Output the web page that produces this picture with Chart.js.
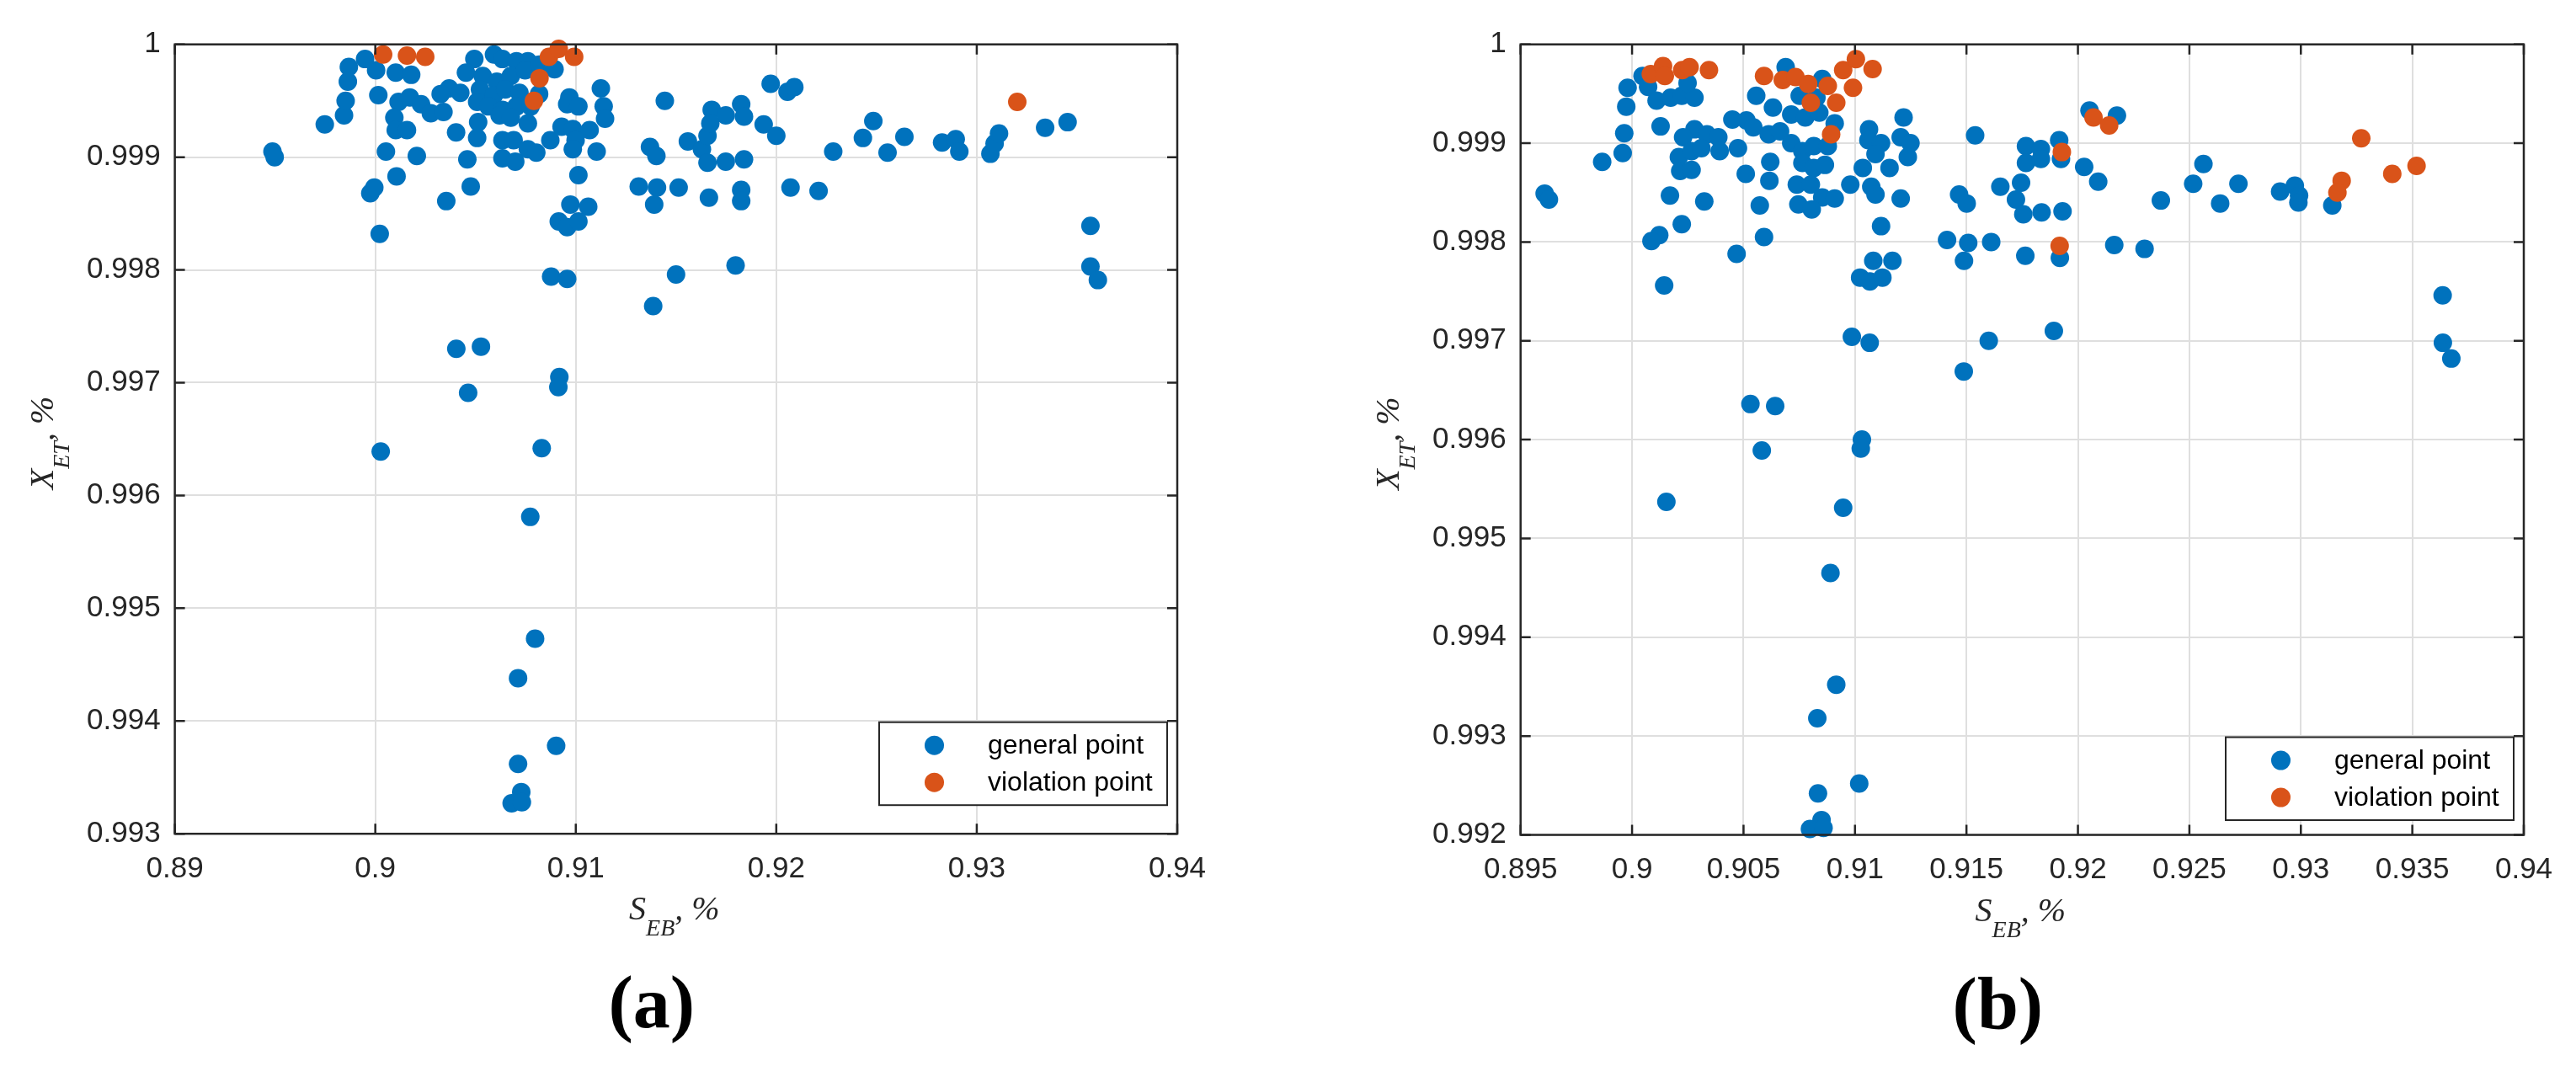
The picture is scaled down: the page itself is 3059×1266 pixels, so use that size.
<!DOCTYPE html>
<html><head><meta charset="utf-8">
<script src="https://cdn.jsdelivr.net/npm/chart.js@4/dist/chart.umd.min.js"></script>
<style>
html,body{margin:0;padding:0;background:#fff;width:3059px;height:1266px;overflow:hidden}
canvas{position:absolute;top:0}
</style></head><body>
<canvas id="ca" width="1530" height="1266" style="left:0px;width:1530px;height:1266px"></canvas>
<canvas id="cb" width="1529" height="1266" style="left:1530px;width:1529px;height:1266px"></canvas>
<script>
// ---------- DATA ----------
const legendLabels = ['general point', 'violation point'];
const panelLabels = ['(a)', '(b)'];
const xTitle = ['S', 'EB', ', %'];
const yTitle = ['X', 'ET', ', %'];

const aTicksX = [0.89, 0.9, 0.91, 0.92, 0.93, 0.94];
const aTicksY = [0.993, 0.994, 0.995, 0.996, 0.997, 0.998, 0.999, 1];
const bTicksX = [0.895, 0.9, 0.905, 0.91, 0.915, 0.92, 0.925, 0.93, 0.935, 0.94];
const bTicksY = [0.992, 0.993, 0.994, 0.995, 0.996, 0.997, 0.998, 0.999, 1];

// panel (a): general points [S_EB, X_ET]
const aGeneral = [
[0.90004,0.99977],[0.90102,0.99975],[0.90179,0.99973],[0.90015,0.99955],[0.90116,0.99949],[0.90172,0.99953],[0.90228,0.99947],[0.90277,0.99939],[0.90340,0.99940],[0.90095,0.99935],[0.90102,0.99924],[0.90158,0.99924],[0.90053,0.99905],[0.90207,0.99901],[0.89975,0.99868],[0.89995,0.99873],[0.90106,0.99883],[0.90354,0.99861],[0.90476,0.99874],[0.90022,0.99832],[0.90403,0.99922],[0.90508,0.99917],[0.90513,0.99931],[0.90459,0.99898],[0.90368,0.99961],[0.90326,0.99956],[0.90424,0.99957],
[0.90494,0.99987],[0.90592,0.99991],[0.90634,0.99987],[0.90704,0.99985],[0.90761,0.99985],[0.90452,0.99975],[0.90536,0.99972],[0.90606,0.99967],[0.90676,0.99972],[0.90747,0.99977],[0.90817,0.99982],[0.90894,0.99978],[0.90522,0.99960],[0.90592,0.99955],[0.90648,0.99960],[0.90719,0.99957],[0.90817,0.99956],[0.90508,0.99949],[0.90564,0.99945],[0.90634,0.99942],[0.90704,0.99945],[0.90775,0.99945],[0.90620,0.99937],[0.90676,0.99935],[0.90761,0.99930],[0.90634,0.99915],[0.90690,0.99915],[0.90761,0.99907],[0.90803,0.99904],[0.90634,0.99899],[0.90698,0.99896],[0.90873,0.99915],
[0.90968,0.99953],[0.90957,0.99947],[0.91013,0.99945],[0.91125,0.99961],[0.91139,0.99945],[0.91146,0.99934],[0.90929,0.99927],[0.90985,0.99925],[0.91069,0.99924],[0.90999,0.99915],[0.90985,0.99907],[0.91104,0.99905],[0.91013,0.99884],[0.90973,0.99858],[0.91062,0.99856],[0.90915,0.99843],[0.90957,0.99838],[0.91013,0.99843],[0.90877,0.99794],[0.90957,0.99792],
[0.91444,0.99950],[0.91370,0.99909],[0.91402,0.99901],[0.91314,0.99874],[0.91405,0.99873],[0.91391,0.99858],[0.91513,0.99873],[0.91559,0.99914],[0.91629,0.99907],[0.91657,0.99919],[0.91678,0.99942],[0.91748,0.99937],[0.91825,0.99947],[0.91839,0.99936],[0.91671,0.99930],[0.91657,0.99895],[0.91748,0.99896],[0.91839,0.99898],[0.91664,0.99864],[0.91825,0.99871],[0.91825,0.99861],[0.91937,0.99929],[0.92000,0.99919],[0.91972,0.99965],[0.92056,0.99958],[0.91500,0.99796],[0.91797,0.99804],
[0.89487,0.99905],[0.89498,0.99900],[0.89748,0.99929],[0.89844,0.99937],[0.89852,0.99950],[0.89863,0.99967],[0.89868,0.99980],[0.89949,0.99987],[0.91386,0.99768],[0.90404,0.99730],[0.90527,0.99732],
[0.92090,0.99962],[0.92071,0.99873],[0.92211,0.99870],[0.92284,0.99905],[0.92432,0.99917],[0.92484,0.99932],[0.92555,0.99904],[0.92639,0.99918],[0.92827,0.99913],[0.92895,0.99916],[0.92913,0.99905],[0.93068,0.99903],[0.93089,0.99912],[0.93111,0.99921],[0.93341,0.99926],[0.93453,0.99931],[0.93567,0.99839],[0.93567,0.99803],[0.93604,0.99791],
[0.90918,0.99705],[0.90913,0.99696],[0.90463,0.99691],[0.90027,0.99639],[0.90830,0.99642],[0.90773,0.99581],[0.90797,0.99473],[0.90712,0.99438],[0.90902,0.99378],[0.90712,0.99362],[0.90728,0.99337],[0.90680,0.99327],[0.90731,0.99328]
];
// panel (a): violation points
const aViolation = [
[0.90039,0.99991],[0.90158,0.99990],[0.90249,0.99989],[0.90866,0.99989],[0.90915,0.99996],[0.90992,0.99989],[0.90819,0.99970],[0.90791,0.99950],[0.93202,0.99949]
];
// panel (b): general points
const bGeneral = [
[0.89608,0.99849],[0.89627,0.99843],
[0.89866,0.99881],[0.89958,0.99890],[0.89965,0.99910],[0.89974,0.99937],[0.89980,0.99956],[0.90047,0.99968],[0.90072,0.99957],[0.90110,0.99943],[0.90173,0.99946],[0.90223,0.99948],[0.90280,0.99946],[0.90249,0.99961],[0.90128,0.99917],[0.90280,0.99914],[0.90229,0.99906],[0.90336,0.99909],[0.90387,0.99906],[0.90210,0.99886],[0.90267,0.99892],[0.90311,0.99895],[0.90393,0.99892],[0.90216,0.99872],[0.90267,0.99873],[0.90475,0.99895],[0.90450,0.99924],[0.90513,0.99923],[0.90544,0.99916],[0.90170,0.99847],[0.90324,0.99841],[0.90223,0.99818],[0.90122,0.99807],[0.90087,0.99801],[0.90144,0.99756],[0.90469,0.99788],[0.90592,0.99805],[0.90573,0.99837],[0.90510,0.99869],[0.90616,0.99862],[0.90620,0.99881],[0.90557,0.99948],[0.90632,0.99936],[0.90689,0.99977],[0.90613,0.99909],[0.90664,0.99912],[0.90714,0.99929],[0.90752,0.99948],[0.90777,0.99926],[0.90840,0.99931],[0.90853,0.99965],[0.90827,0.99946],[0.90909,0.99920],[0.90714,0.99900],[0.90764,0.99892],[0.90815,0.99897],[0.90878,0.99897],[0.90764,0.99880],[0.90815,0.99875],[0.90865,0.99878],[0.90739,0.99858],[0.90802,0.99858],[0.90853,0.99845],[0.90909,0.99844],[0.90746,0.99838],[0.90806,0.99833],[0.90979,0.99858],[0.91063,0.99914],[0.91060,0.99903],[0.91117,0.99900],[0.91092,0.99889],[0.91218,0.99926],[0.91205,0.99906],[0.91249,0.99900],[0.91237,0.99886],[0.91155,0.99875],[0.91035,0.99875],[0.91073,0.99856],[0.91092,0.99848],[0.91205,0.99844],[0.91117,0.99816],[0.91082,0.99781],[0.91168,0.99781],[0.91023,0.99764],[0.91067,0.99760],[0.91123,0.99764],[0.91539,0.99908],[0.91467,0.99848],[0.91501,0.99839],[0.91413,0.99802],[0.91508,0.99799],[0.91611,0.99800],[0.91489,0.99781],[0.91652,0.99856],
[0.91764,0.99786],[0.91919,0.99784],[0.91892,0.99710],[0.91600,0.99700],[0.91767,0.99897],[0.91834,0.99894],[0.91767,0.99880],[0.91834,0.99884],[0.91916,0.99903],[0.91924,0.99884],[0.91745,0.99860],[0.91722,0.99843],[0.91755,0.99828],[0.91837,0.99830],[0.91931,0.99831],[0.92052,0.99933],[0.92175,0.99928],[0.92028,0.99876],[0.92091,0.99861],[0.92372,0.99842],[0.92517,0.99859],[0.92563,0.99879],[0.92638,0.99839],[0.92720,0.99859],[0.92163,0.99797],[0.92299,0.99793],[0.92907,0.99851],[0.92973,0.99857],[0.92992,0.99847],[0.92989,0.99840],[0.93141,0.99837],[0.93636,0.99746],[0.93637,0.99698],
[0.91488,0.99669],[0.93675,0.99682],
[0.90986,0.99704],[0.91066,0.99698],[0.90531,0.99636],[0.90642,0.99634],[0.90582,0.99589],[0.91031,0.99600],[0.91026,0.99591],[0.90154,0.99537],[0.90947,0.99531],[0.90890,0.99465],[0.90916,0.99352],[0.90831,0.99318],[0.91019,0.99252],[0.90834,0.99242],[0.90850,0.99215],[0.90798,0.99206],[0.90859,0.99207]
];
// panel (b): violation points
const bViolation = [
[0.90084,0.99970],[0.90139,0.99978],[0.90147,0.99968],[0.90225,0.99974],[0.90258,0.99977],[0.90345,0.99974],[0.90592,0.99968],[0.90676,0.99964],[0.90733,0.99967],[0.90790,0.99960],[0.90802,0.99941],[0.90916,0.99941],[0.90878,0.99958],[0.90947,0.99974],[0.91004,0.99985],[0.90991,0.99956],[0.91079,0.99975],[0.90893,0.99909],[0.92070,0.99926],[0.92140,0.99918],[0.91928,0.99891],[0.91918,0.99796],[0.93271,0.99905],[0.93410,0.99869],[0.93519,0.99877],[0.93183,0.99862],[0.93164,0.99850]
];

// ---------- STYLE / LAYOUT ----------
const BLUE = '#0072BD', ORANGE = '#D95319', INK = '#262626', GRID = '#dfdfdf';
const SANS = '"Liberation Sans", Arial, Helvetica, sans-serif';
const SERIF = '"Liberation Serif", "Times New Roman", serif';

const frameAndText = {
  id: 'frameAndText',
  afterDraw(chart, args, o) {
    const ctx = chart.ctx, a = chart.chartArea, xs = chart.scales.x, ys = chart.scales.y;
    ctx.save();
    // frame
    ctx.strokeStyle = INK; ctx.lineWidth = 2.5;
    ctx.strokeRect(a.left, a.top, a.right - a.left, a.bottom - a.top);
    // inward ticks on all sides
    ctx.beginPath();
    xs.ticks.forEach(t => { const p = xs.getPixelForValue(t.value);
      ctx.moveTo(p, a.bottom); ctx.lineTo(p, a.bottom - 12);
      ctx.moveTo(p, a.top); ctx.lineTo(p, a.top + 12); });
    ys.ticks.forEach(t => { const p = ys.getPixelForValue(t.value);
      ctx.moveTo(a.left, p); ctx.lineTo(a.left + 12, p);
      ctx.moveTo(a.right, p); ctx.lineTo(a.right - 12, p); });
    ctx.stroke();

    // legend
    const ds = chart.data.datasets;
    const bw = 342, bh = 98.5;
    const bx = a.right - o.legendRight - bw, by = a.bottom - o.legendBottom - bh;
    ctx.fillStyle = '#fff'; ctx.fillRect(bx, by, bw, bh);
    ctx.lineWidth = 2; ctx.strokeStyle = INK; ctx.strokeRect(bx, by, bw, bh);
    const rows = [27.5, 71.5];
    ds.forEach((d, i) => {
      ctx.fillStyle = d.backgroundColor;
      ctx.beginPath(); ctx.arc(bx + 65.5, by + rows[i], 11.5, 0, Math.PI * 2); ctx.fill();
      ctx.fillStyle = '#000'; ctx.font = '32px ' + SANS;
      ctx.textAlign = 'left'; ctx.textBaseline = 'middle';
      ctx.fillText(d.label, bx + 129, by + rows[i] + 1);
    });

    // axis titles with subscripts
    const midX = (a.left + a.right) / 2, midY = (a.top + a.bottom) / 2;
    drawParts(ctx, xTitle, midX - 2, a.bottom + 102, false);
    drawParts(ctx, yTitle, a.left - 144.3, midY + 4.5, true);

    // panel label
    ctx.fillStyle = '#000'; ctx.font = 'bold 88px ' + SERIF;
    ctx.textAlign = 'center'; ctx.textBaseline = 'alphabetic';
    ctx.fillText(o.panel, midX - 29, a.bottom + 230);
    ctx.restore();
  }
};

function drawParts(ctx, parts, cx, by, rot) {
  const mainF = 'italic 40px ' + SERIF, subF = 'italic 28px ' + SERIF;
  const items = parts.map((t, i) => ({ t, sub: i === 1 }));
  let w = 0;
  items.forEach(p => { ctx.font = p.sub ? subF : mainF; p.w = ctx.measureText(p.t).width; w += p.w; });
  ctx.save();
  ctx.translate(cx, by);
  if (rot) ctx.rotate(-Math.PI / 2);
  ctx.textAlign = 'left'; ctx.textBaseline = 'alphabetic'; ctx.fillStyle = INK;
  let x = -w / 2;
  items.forEach(p => { ctx.font = p.sub ? subF : mainF; ctx.fillText(p.t, x, p.sub ? 19 : 0); x += p.w; });
  ctx.restore();
}

function makeChart(id, gen, vio, xT, yT, geo, panel, legendBottom) {
  const pts = arr => arr.map(p => ({ x: p[0], y: p[1] }));
  const tickFont = { family: SANS, size: 35 };
  return new Chart(document.getElementById(id), {
    type: 'scatter',
    data: { datasets: [
      { label: legendLabels[0], data: pts(gen), backgroundColor: BLUE, pointRadius: 11, pointHoverRadius: 11, pointBorderWidth: 0, borderWidth: 0, order: 1, clip: false },
      { label: legendLabels[1], data: pts(vio), backgroundColor: ORANGE, pointRadius: 11, pointHoverRadius: 11, pointBorderWidth: 0, borderWidth: 0, order: 0, clip: false }
    ]},
    options: {
      responsive: false, animation: false, devicePixelRatio: 1,
      layout: { padding: { left: 0, top: geo.top, right: geo.w - geo.right, bottom: 0 } },
      events: [],
      plugins: {
        legend: { display: false }, tooltip: { enabled: false },
        frameAndText: { panel, legendRight: 12, legendBottom }
      },
      scales: {
        x: {
          type: 'linear', min: xT[0], max: xT[xT.length - 1],
          afterBuildTicks: s => { s.ticks = xT.map(v => ({ value: v })); },
          afterFit: s => { s.height = geo.h - geo.bottom; },
          grid: { color: GRID, lineWidth: 2, drawTicks: false },
          border: { display: false },
          ticks: { autoSkip: false, maxRotation: 0, minRotation: 0, padding: 21, color: INK, font: tickFont, callback: v => String(v) }
        },
        y: {
          type: 'linear', min: yT[0], max: yT[yT.length - 1],
          afterBuildTicks: s => { s.ticks = yT.map(v => ({ value: v })); },
          afterFit: s => { s.width = geo.left; },
          grid: { color: GRID, lineWidth: 2, drawTicks: false },
          border: { display: false },
          ticks: { autoSkip: false, padding: 17, color: INK, font: tickFont, callback: v => String(v) }
        }
      }
    },
    plugins: [frameAndText]
  });
}

makeChart('ca', aGeneral, aViolation, aTicksX, aTicksY,
  { w: 1530, h: 1266, left: 207.6, right: 1398, top: 52.7, bottom: 990.2 }, panelLabels[0], 34);
makeChart('cb', bGeneral, bViolation, bTicksX, bTicksY,
  { w: 1529, h: 1266, left: 275.7, right: 1467, top: 52.7, bottom: 991.5 }, panelLabels[1], 17.5);
</script></body></html>
